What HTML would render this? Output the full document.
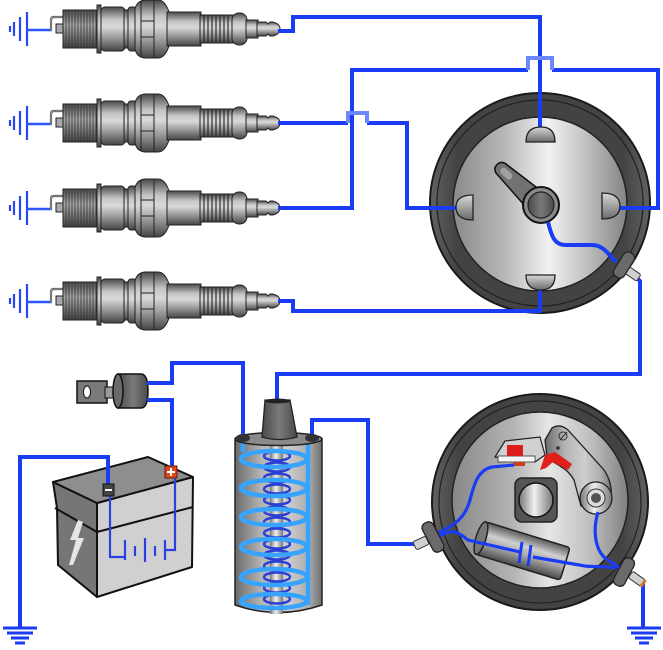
<!DOCTYPE html>
<html><head><meta charset="utf-8"><style>html,body{margin:0;padding:0;background:#fff}svg{display:block}</style></head>
<body>
<svg width="663" height="650" viewBox="0 0 663 650" xmlns="http://www.w3.org/2000/svg">
<defs>
<linearGradient id="gm" x1="0" y1="0" x2="0" y2="1">
 <stop offset="0" stop-color="#4a4a4a"/><stop offset=".28" stop-color="#c4c4c4"/><stop offset=".45" stop-color="#dadada"/><stop offset=".7" stop-color="#9a9a9a"/><stop offset="1" stop-color="#444"/>
</linearGradient>
<linearGradient id="gt" x1="0" y1="0" x2="0" y2="1">
 <stop offset="0" stop-color="#4a4a4a"/><stop offset=".4" stop-color="#aaa"/><stop offset=".6" stop-color="#888"/><stop offset="1" stop-color="#404040"/>
</linearGradient>
<linearGradient id="gh" x1="0" y1="0" x2="1" y2="0">
 <stop offset="0" stop-color="#6a6a6a"/><stop offset=".3" stop-color="#b4b4b4"/><stop offset=".6" stop-color="#cecece"/><stop offset=".85" stop-color="#acacac"/><stop offset="1" stop-color="#707070"/>
</linearGradient>
<linearGradient id="grod" x1="0" y1="0" x2="1" y2="0">
 <stop offset="0" stop-color="#777"/><stop offset=".45" stop-color="#f0f0f0"/><stop offset="1" stop-color="#777"/>
</linearGradient>
<linearGradient id="gdisk" x1="0" y1="0" x2="1" y2="0">
 <stop offset="0" stop-color="#8a8a8a"/><stop offset=".3" stop-color="#b8b8b8"/><stop offset=".55" stop-color="#f2f2f2"/><stop offset=".75" stop-color="#c4c4c4"/><stop offset="1" stop-color="#838383"/>
</linearGradient>
<linearGradient id="gdisk2" x1="0" y1="0" x2="1" y2="0">
 <stop offset="0" stop-color="#888"/><stop offset=".35" stop-color="#b4b4b4"/><stop offset=".55" stop-color="#e6e6e6"/><stop offset=".8" stop-color="#bcbcbc"/><stop offset="1" stop-color="#808080"/>
</linearGradient>
<linearGradient id="gring" x1="0" y1="0" x2="1" y2="0">
 <stop offset="0" stop-color="#626262"/><stop offset=".12" stop-color="#434343"/><stop offset=".88" stop-color="#434343"/><stop offset="1" stop-color="#626262"/>
</linearGradient>
<linearGradient id="gterm" x1="0" y1="0" x2="0" y2="1">
 <stop offset="0" stop-color="#d8d8d8"/><stop offset="1" stop-color="#6a6a6a"/>
</linearGradient>
<linearGradient id="gdark" x1="0" y1="0" x2="1" y2="0">
 <stop offset="0" stop-color="#4a4a4a"/><stop offset=".5" stop-color="#7a7a7a"/><stop offset="1" stop-color="#4a4a4a"/>
</linearGradient>
<linearGradient id="gcond" x1="0" y1="0" x2="0" y2="1">
 <stop offset="0" stop-color="#5a5a5a"/><stop offset=".35" stop-color="#d0d0d0"/><stop offset=".6" stop-color="#aaa"/><stop offset="1" stop-color="#4a4a4a"/>
</linearGradient>

<g id="plug">
 <g stroke="#2a48f0" stroke-width="2.2">
  <line x1="10" y1="-3" x2="10" y2="3"/>
  <line x1="14" y1="-7" x2="14" y2="7"/>
  <line x1="20" y1="-12" x2="20" y2="12"/>
  <line x1="27" y1="-17" x2="27" y2="17"/>
 </g>
 <line x1="27" y1="1" x2="52" y2="1" stroke="#2f55ff" stroke-width="2.5"/>
 <path d="M51,2 V-9 Q51,-12 54,-12 H64" fill="none" stroke="#444" stroke-width="2.2"/>
 <path d="M51,2 V-9 Q51,-12 54,-12 H64" fill="none" stroke="#c8c8c8" stroke-width="0.8"/>
 <rect x="56" y="-5" width="7" height="9" fill="#aaa" stroke="#222" stroke-width="1"/>
 <rect x="63" y="-19" width="35" height="38" fill="url(#gt)" stroke="#222" stroke-width="1"/>
 <path d="M66,-19V19M69,-19V19M72,-19V19M75,-19V19M78,-19V19M81,-19V19M84,-19V19M87,-19V19M90,-19V19M93,-19V19M96,-19V19" stroke="#333" stroke-width="0.8"/>
 <rect x="97" y="-24" width="4" height="48" fill="url(#gm)" stroke="#222" stroke-width="1"/>
 <rect x="101" y="-22" width="24" height="44" rx="4" fill="url(#gm)" stroke="#222" stroke-width="1"/>
 <rect x="124" y="-19" width="5" height="38" fill="url(#gm)" stroke="#222" stroke-width="1"/>
 <rect x="128" y="-22" width="9" height="44" rx="3" fill="url(#gm)" stroke="#222" stroke-width="1"/>
 <path d="M135,-20 Q137,-29 146,-29 H158 Q165,-29 169,-17 V17 Q165,29 158,29 H146 Q137,29 135,20 Z" fill="url(#gm)" stroke="#222" stroke-width="1"/>
 <path d="M141,-28V28M154,-29V29M141,-8H154M141,8H154" stroke="#222" stroke-width="1" fill="none"/>
 <rect x="167" y="-17" width="34" height="34" fill="url(#gm)" stroke="#222" stroke-width="1"/>
 <rect x="200" y="-14" width="34" height="28" fill="url(#gm)" stroke="#222" stroke-width="1"/>
 <path d="M204,-14V14M208,-14V14M212,-14V14M216,-14V14M220,-14V14M224,-14V14M228,-14V14" stroke="#222" stroke-width="1.1"/>
 <rect x="232" y="-16" width="15" height="32" rx="7" fill="url(#gm)" stroke="#222" stroke-width="1"/>
 <rect x="246" y="-9" width="12" height="18" fill="url(#gm)" stroke="#222" stroke-width="1"/>
 <path d="M257,-7 H266 L268,-5 L270,-7 H273 Q280,-5 280,0 Q280,5 273,7 H270 L268,5 L266,7 H257 Z" fill="url(#gm)" stroke="#222" stroke-width="1"/>
</g>
</defs>

<!-- Spark plugs -->
<use href="#plug" transform="translate(0,29)"/>
<use href="#plug" transform="translate(0,123)"/>
<use href="#plug" transform="translate(0,208)"/>
<use href="#plug" transform="translate(0,301)"/>

<!-- Distributor cap -->
<circle cx="540" cy="203" r="110" fill="url(#gring)" stroke="#1a1a1a" stroke-width="2"/>
<circle cx="540" cy="203" r="103" fill="none" stroke="#222" stroke-width="1.2"/>
<circle cx="540" cy="204" r="87" fill="url(#gdisk)" stroke="#222" stroke-width="1.5"/>

<!-- Breaker distributor -->
<circle cx="540" cy="502" r="108" fill="url(#gring)" stroke="#1a1a1a" stroke-width="2"/>
<circle cx="540" cy="502" r="101" fill="none" stroke="#222" stroke-width="1.2"/>
<circle cx="540" cy="500" r="88" fill="url(#gdisk2)" stroke="#222" stroke-width="1.5"/>

<!-- Battery -->
<g stroke="#111" stroke-width="2" stroke-linejoin="round">
 <polygon points="53,482 97,503 97,597 58,565 57,508" fill="#767676"/>
 <polygon points="97,503 193,477 192,567 97,597" fill="#d0d0d0"/>
 <polygon points="53,482 148,457 193,477 97,503" fill="#8e8e8e"/>
 <path d="M55,508 L97,532 L193,507" fill="none"/>
</g>
<polygon points="78,520 70,540 76,540 69,565 73,565 84,538 78,538 83,522" fill="#e6e6e6"/>
<g stroke="#2a40e0" stroke-width="2.2" fill="none">
 <path d="M110,494 V557 H125"/>
 <path d="M125,540V560 M135,546V556 M145,538V562 M155,546V556 M165,540V560"/>
 <path d="M165,550 H175 V472"/>
</g>

<!-- Ignition key switch -->
<rect x="77" y="381" width="30" height="22" fill="#7a7a7a" stroke="#111" stroke-width="1.5"/>
<ellipse cx="87" cy="392" rx="3.5" ry="6" fill="#fff" stroke="#111" stroke-width="1"/>
<rect x="105" y="387" width="13" height="11" fill="#9a9a9a" stroke="#111" stroke-width="1"/>
<path d="M118,374 H141 Q148,374 148,391 Q148,408 141,408 H118 Z" fill="url(#gdark)" stroke="#111" stroke-width="1.5"/>
<ellipse cx="118" cy="391" rx="5" ry="17" fill="#6a6a6a" stroke="#111" stroke-width="1.5"/>

<!-- Condenser, cam, breaker points -->
<g transform="translate(523,551) rotate(17)">
 <rect x="-44" y="-17" width="88" height="34" rx="3" fill="url(#gcond)" stroke="#222" stroke-width="1.5"/>
 <ellipse cx="-44" cy="0" rx="5" ry="17" fill="#777" stroke="#222" stroke-width="1.5"/>
</g>
<rect x="515" y="478" width="42" height="44" rx="7" fill="#555" stroke="#222" stroke-width="1.5"/>
<circle cx="536" cy="500" r="17" fill="url(#grod)" stroke="#111" stroke-width="1.5"/>

<polygon points="495,457 505,441 540,437 545,455 535,462" fill="#d0d0d0" stroke="#222" stroke-width="1.2"/>
<rect x="498" y="456" width="37" height="6" fill="#f4f4f4" stroke="#333" stroke-width="0.8"/>
<rect x="507" y="445" width="16" height="11" fill="#dd1d1d"/>
<rect x="513" y="462" width="12" height="4" fill="#c8401a"/>
<path d="M545,440 L552,428 Q560,423 568,430 L604,470 Q613,483 611,500 L581,506 L574,480 Q569,471 560,466 L547,458 Z" fill="url(#gh)" stroke="#222" stroke-width="1.3"/>
<polygon points="540,470 545,455 555,452 572,464 568,470 553,462 546,468" fill="#e0201a"/>
<circle cx="563" cy="436" r="4" fill="none" stroke="#333" stroke-width="1"/>
<line x1="560" y1="440" x2="567" y2="432" stroke="#333" stroke-width="1"/>
<circle cx="558" cy="448" r="1.8" fill="#333"/>
<circle cx="596" cy="498" r="16" fill="url(#grod)" stroke="#222" stroke-width="1.3"/>
<circle cx="596" cy="498" r="9" fill="#ddd" stroke="#333" stroke-width="1"/>
<circle cx="596" cy="498" r="5" fill="#555"/>

<!-- Rotor -->
<g transform="translate(540,205) rotate(-137)">
 <path d="M0,-12 L50,-7 Q59,-7 59,0 Q59,7 50,7 L0,12 Z" fill="#727272" stroke="#111" stroke-width="1.5"/>
 <rect x="39" y="-3.5" width="14" height="7" rx="3.5" fill="#a0a0a0"/>
</g>
<circle cx="541" cy="205" r="18" fill="#8a8a8a" stroke="#111" stroke-width="2"/>
<circle cx="541" cy="205" r="13" fill="url(#gdark)" stroke="#222" stroke-width="1.2"/>

<!-- Wires -->
<g fill="none" stroke="#1b3cf5" stroke-width="4" stroke-linejoin="miter">
 <path d="M278,31 H293 V17 H540 V130"/>
 <path d="M278,208 H352 V70 H528"/>
 <path d="M552,70 H658 V208 H620"/>
 <path d="M278,123 H348"/>
 <path d="M367,123 H407 V208 H457"/>
 <path d="M278,301 H293 V311 H540 V288"/>
 <path d="M548,222 C552,238 555,245 566,245 L592,245 C602,245 607,252 616,262"/>
 <path d="M638,279 L640,281 V374 H277 V402"/>
 <path d="M147,383 H172 V363 H243 V437"/>
 <path d="M147,400 H172 V470"/>
 <path d="M108,490 V457 H20 V628"/>
 <path d="M312,437 V420 H368 V544 H418"/>
 <path d="M643,583 V628"/>
</g>
<g fill="none" stroke="#6d88ff" stroke-width="4">
 <path d="M528,70 V58 H552 V70"/>
 <path d="M348,123 V113 H367 V123"/>
</g>
<g fill="none" stroke="#1b3cf5" stroke-width="3.2">
 <path d="M438,533 C455,525 465,518 470,500 C474,484 478,470 492,467 L514,465"/>
 <path d="M440,536 C452,528 458,532 468,540 L520,552"/>
 <path d="M533,557 L585,566 C595,567 605,566 616,568"/>
 <path d="M598,512 C592,532 596,550 605,558 L620,568"/>
</g>
<g stroke="#1b3cf5" stroke-width="3">
 <line x1="522" y1="542" x2="519" y2="563"/>
 <line x1="531" y1="545" x2="528" y2="566"/>
</g>

<!-- Ground symbols -->
<g stroke="#1b3cf5" stroke-width="3">
 <line x1="3" y1="628" x2="37" y2="628"/><line x1="7" y1="633" x2="33" y2="633"/><line x1="11" y1="638" x2="29" y2="638"/><line x1="15" y1="643" x2="25" y2="643"/>
 <line x1="627" y1="628" x2="661" y2="628"/><line x1="631" y1="633" x2="657" y2="633"/><line x1="635" y1="638" x2="653" y2="638"/><line x1="639" y1="643" x2="649" y2="643"/>
</g>

<!-- Cap terminals -->
<g fill="url(#gterm)" stroke="#222" stroke-width="1.3">
 <path d="M526,142 Q526,127 541,127 Q555,127 555,142 Z"/>
 <path d="M526,275 H555 Q555,290 541,290 Q526,290 526,275 Z"/>
 <path d="M473,195 V220 Q456,220 456,207 Q456,195 473,195 Z"/>
 <path d="M602,193 V219 Q620,219 620,206 Q620,193 602,193 Z"/>
</g>

<!-- Connectors -->
<g transform="translate(633,274) rotate(35)"><rect x="-7" y="-4" width="14" height="8" rx="2" fill="#d0d0d0" stroke="#333" stroke-width="1"/></g>
<g transform="translate(624,265) rotate(-58)"><rect x="-14" y="-6" width="28" height="12" rx="5" fill="#6a6a6a" stroke="#222" stroke-width="1.3"/></g>

<g transform="translate(421,543) rotate(-25)"><rect x="-7" y="-4.5" width="14" height="9" rx="2" fill="#d0d0d0" stroke="#333" stroke-width="1"/></g>
<g transform="translate(433,537) rotate(62)"><rect x="-16" y="-6" width="32" height="12" rx="5" fill="#6a6a6a" stroke="#222" stroke-width="1.3"/></g>

<g transform="translate(637,579) rotate(35)"><rect x="-8" y="-4" width="16" height="8" rx="2" fill="#d0d0d0" stroke="#333" stroke-width="1"/><rect x="6" y="-4" width="3" height="8" fill="#c97a2a"/></g>
<g transform="translate(624,572) rotate(-62)"><rect x="-15" y="-6" width="30" height="12" rx="5" fill="#6a6a6a" stroke="#222" stroke-width="1.3"/></g>

<!-- Ignition coil -->
<path d="M235,439 V605 Q278,620 322,605 V439 Z" fill="url(#gh)" stroke="#222" stroke-width="1.5"/>
<rect x="270" y="444" width="13" height="170" fill="url(#grod)"/>
<g fill="none" stroke="#2a3fd6" stroke-width="2.4">
 <ellipse cx="277" cy="456" rx="13" ry="4.5"/><ellipse cx="277" cy="467" rx="13" ry="4.5"/><ellipse cx="277" cy="478" rx="13" ry="4.5"/><ellipse cx="277" cy="489" rx="13" ry="4.5"/><ellipse cx="277" cy="500" rx="13" ry="4.5"/><ellipse cx="277" cy="511" rx="13" ry="4.5"/><ellipse cx="277" cy="522" rx="13" ry="4.5"/><ellipse cx="277" cy="533" rx="13" ry="4.5"/><ellipse cx="277" cy="544" rx="13" ry="4.5"/><ellipse cx="277" cy="555" rx="13" ry="4.5"/><ellipse cx="277" cy="566" rx="13" ry="4.5"/><ellipse cx="277" cy="577" rx="13" ry="4.5"/><ellipse cx="277" cy="588" rx="13" ry="4.5"/><ellipse cx="277" cy="599" rx="13" ry="4.5"/>
</g>
<g fill="none" stroke="#36a4ff" stroke-width="4.5">
 <ellipse cx="274" cy="459" rx="33" ry="8"/><ellipse cx="274" cy="488" rx="33" ry="8"/><ellipse cx="274" cy="517" rx="33" ry="8"/><ellipse cx="274" cy="547" rx="33" ry="8"/><ellipse cx="274" cy="577" rx="33" ry="8"/><ellipse cx="274" cy="601" rx="33" ry="7"/>
 <path d="M243,440 V452"/>
 <path d="M308,442 V605"/>
</g>
<ellipse cx="278.5" cy="439" rx="43.5" ry="6.5" fill="#8a8a8a" stroke="#222" stroke-width="1.5"/>
<ellipse cx="243" cy="438" rx="7" ry="4" fill="#333"/>
<ellipse cx="312" cy="438" rx="7" ry="4" fill="#333"/>
<path d="M265,400 L290,400 L297,437 Q279,442 262,437 Z" fill="url(#gdark)" stroke="#222" stroke-width="1.3"/>
<ellipse cx="277.5" cy="401" rx="12.5" ry="2.5" fill="#222"/>

<!-- Battery terminals -->
<rect x="103" y="484" width="11" height="12" fill="#444" stroke="#111" stroke-width="1"/>
<rect x="105" y="489" width="7" height="2" fill="#fff"/>
<rect x="165" y="466" width="12" height="12" fill="#d9481a" stroke="#6a1a0a" stroke-width="1"/>
<rect x="170" y="468" width="2" height="8" fill="#fff"/>
<rect x="167" y="471" width="8" height="2" fill="#fff"/>
</svg>
</body></html>
